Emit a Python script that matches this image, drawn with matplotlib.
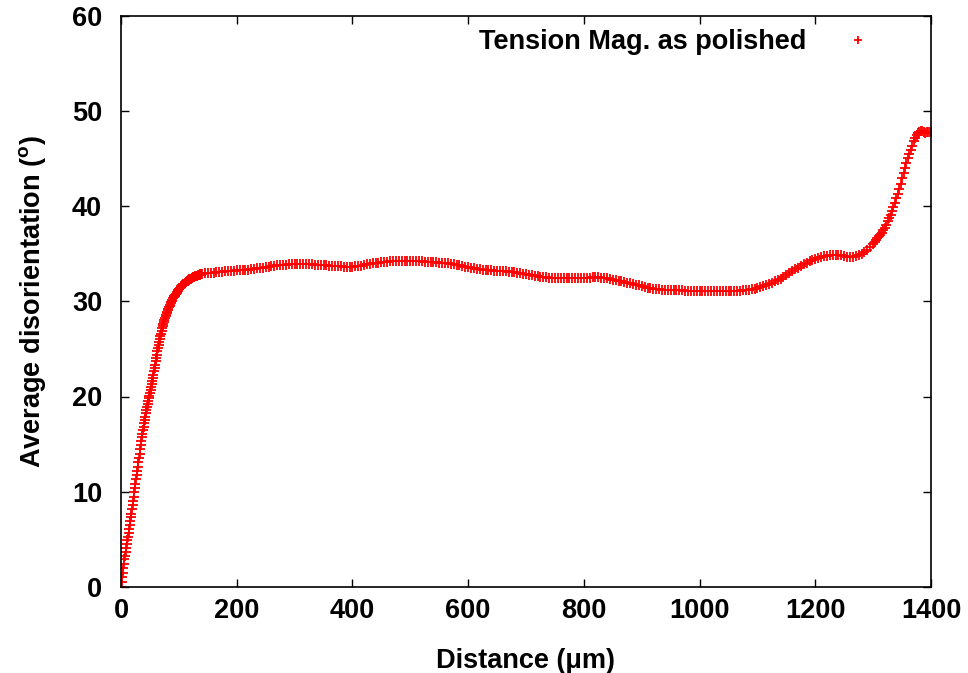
import numpy as np
import matplotlib
matplotlib.use("Agg")
import matplotlib.pyplot as plt

# ---- data ----
dist_rise = [0, 1, 2, 3, 4, 5, 6, 7, 8, 9,
             10, 11, 12, 13, 14, 15, 16, 17, 18, 19,
             20, 21, 22, 23, 24, 25, 26, 27, 28, 29,
             30, 31, 32, 33, 34, 35, 36, 37, 38, 39,
             40, 41, 42, 43, 44, 45, 46, 47, 48, 49,
             50, 51, 52, 53, 54, 55, 56, 57, 58, 59,
             60, 61, 62, 63, 64, 65, 66, 67, 68, 69,
             70, 71, 72, 73, 74, 75, 76, 77, 78, 79,
             80, 81, 82, 83, 84, 85, 86, 87, 88, 89,
             90, 91, 92, 93, 94, 95, 96, 97, 98, 99,
             100, 101, 102, 103, 104, 105, 106, 107, 108, 109,
             110, 111, 112, 113, 114, 115, 116, 117, 118, 119,
             120, 121, 122, 123, 124, 125, 126, 127, 128, 129,
             130, 131, 132, 133, 134, 135, 136, 137, 138, 139]
angle_rise = [0.0, 0.5, 1.0, 1.5, 2.0, 2.45, 2.9, 3.3, 3.7, 4.1,
              4.5, 4.9, 5.3, 5.7, 6.1, 6.5, 6.9, 7.3, 7.7, 8.15,
              8.6, 9.05, 9.5, 9.95, 10.4, 10.85, 11.3, 11.75, 12.2, 12.65,
              13.1, 13.55, 14.0, 14.45, 14.9, 15.3, 15.7, 16.1, 16.5, 16.85,
              17.2, 17.55, 17.9, 18.25, 18.6, 18.9, 19.2, 19.5, 19.8, 20.1,
              20.4, 20.7, 21.0, 21.3, 21.6, 21.95, 22.3, 22.65, 23.0, 23.35,
              23.7, 24.05, 24.4, 24.75, 25.1, 25.4, 25.7, 26.0, 26.3, 26.6,
              26.9, 27.15, 27.4, 27.6, 27.8, 28.0, 28.2, 28.4, 28.6, 28.75,
              28.9, 29.05, 29.2, 29.35, 29.5, 29.65, 29.8, 29.93, 30.05, 30.18,
              30.3, 30.4, 30.5, 30.6, 30.7, 30.8, 30.9, 31.0, 31.1, 31.18,
              31.25, 31.33, 31.4, 31.48, 31.55, 31.63, 31.7, 31.75, 31.8, 31.85,
              31.9, 31.95, 32.0, 32.05, 32.1, 32.15, 32.2, 32.25, 32.3, 32.33,
              32.35, 32.38, 32.4, 32.45, 32.5, 32.53, 32.55, 32.58, 32.6, 32.63,
              32.65, 32.68, 32.7, 32.73, 32.75, 32.78, 32.8, 32.83, 32.85, 32.88]

dist_plateau = [140, 145, 150, 155, 160, 165, 170, 175, 180, 185,
                190, 195, 200, 205, 210, 215, 220, 225, 230, 235,
                240, 245, 250, 255, 260, 265, 270, 275, 280, 285,
                290, 295, 300, 305, 310, 315, 320, 325, 330, 335,
                340, 345, 350, 355, 360, 365, 370, 375, 380, 385,
                390, 395, 400, 405, 410, 415, 420, 425, 430, 435,
                440, 445, 450, 455, 460, 465, 470, 475, 480, 485,
                490, 495, 500, 505, 510, 515, 520, 525, 530, 535,
                540, 545, 550, 555, 560, 565, 570, 575, 580, 585,
                590, 595, 600, 605, 610, 615, 620, 625, 630, 635,
                640, 645, 650, 655, 660, 665, 670, 675, 680, 685,
                690, 695, 700, 705, 710, 715, 720, 725, 730, 735,
                740, 745, 750, 755, 760, 765, 770, 775, 780, 785,
                790, 795, 800, 805, 810, 815, 820, 825, 830, 835,
                840, 845, 850, 855, 860, 865, 870, 875, 880, 885,
                890, 895, 900, 905, 910, 915, 920, 925, 930, 935,
                940, 945, 950, 955, 960, 965, 970, 975, 980, 985,
                990, 995, 1000, 1005, 1010, 1015, 1020, 1025, 1030, 1035,
                1040, 1045, 1050, 1055, 1060, 1065, 1070, 1075, 1080, 1085,
                1090, 1095, 1100, 1105, 1110, 1115, 1120, 1125, 1130, 1135,
                1140, 1145, 1150, 1155, 1160, 1165, 1170, 1175, 1180, 1185,
                1190, 1195, 1200, 1205, 1210, 1215, 1220, 1225, 1230, 1235,
                1240, 1245, 1250, 1255, 1260, 1265, 1270, 1275, 1280, 1285,
                1290, 1295]
angle_plateau = [32.90, 32.93, 32.95, 32.97, 33.00, 33.03, 33.07, 33.10, 33.13, 33.17,
                 33.20, 33.22, 33.24, 33.26, 33.28, 33.30, 33.32, 33.36, 33.40, 33.44,
                 33.48, 33.53, 33.58, 33.63, 33.68, 33.72, 33.76, 33.80, 33.83, 33.85,
                 33.87, 33.89, 33.90, 33.90, 33.90, 33.89, 33.88, 33.87, 33.86, 33.85,
                 33.83, 33.81, 33.79, 33.76, 33.73, 33.71, 33.69, 33.67, 33.65, 33.63,
                 33.62, 33.61, 33.62, 33.65, 33.70, 33.75, 33.80, 33.86, 33.92, 33.97,
                 34.02, 34.06, 34.10, 34.13, 34.16, 34.18, 34.19, 34.20, 34.21, 34.22,
                 34.22, 34.22, 34.21, 34.20, 34.20, 34.19, 34.18, 34.17, 34.15, 34.12,
                 34.10, 34.08, 34.06, 34.03, 34.00, 33.97, 33.93, 33.88, 33.82, 33.76,
                 33.70, 33.64, 33.58, 33.52, 33.46, 33.41, 33.36, 33.32, 33.28, 33.26,
                 33.24, 33.22, 33.21, 33.20, 33.17, 33.14, 33.10, 33.06, 33.02, 32.98,
                 32.93, 32.88, 32.83, 32.78, 32.73, 32.68, 32.63, 32.58, 32.54, 32.50,
                 32.47, 32.44, 32.42, 32.41, 32.40, 32.40, 32.40, 32.40, 32.41, 32.42,
                 32.43, 32.44, 32.45, 32.46, 32.48, 32.50, 32.51, 32.50, 32.48, 32.44,
                 32.40, 32.34, 32.28, 32.22, 32.16, 32.10, 32.03, 31.96, 31.89, 31.82,
                 31.74, 31.66, 31.58, 31.51, 31.44, 31.38, 31.33, 31.29, 31.25, 31.22,
                 31.20, 31.18, 31.17, 31.16, 31.15, 31.14, 31.13, 31.12, 31.10, 31.08,
                 31.06, 31.05, 31.04, 31.04, 31.05, 31.07, 31.08, 31.10, 31.10, 31.09,
                 31.08, 31.06, 31.05, 31.05, 31.06, 31.08, 31.10, 31.13, 31.16, 31.20,
                 31.25, 31.31, 31.38, 31.46, 31.56, 31.67, 31.80, 31.94, 32.08, 32.22,
                 32.37, 32.55, 32.74, 32.94, 33.14, 33.34, 33.54, 33.72, 33.90, 34.06,
                 34.20, 34.33, 34.44, 34.54, 34.63, 34.71, 34.78, 34.84, 34.88, 34.90,
                 34.89, 34.84, 34.76, 34.68, 34.64, 34.66, 34.74, 34.86, 35.00, 35.17,
                 35.38, 35.65]

dist_tail = [1300, 1302.5, 1305, 1307.5, 1310, 1312.5, 1315, 1317.5, 1320, 1322.5,
             1325, 1327.5, 1330, 1332.5, 1335, 1337.5, 1340, 1342.5, 1345, 1347.5,
             1350, 1352.5, 1355, 1357.5, 1360, 1362.5, 1365, 1367.5, 1370, 1372.5,
             1375, 1377.5, 1380, 1382.5, 1385, 1387.5, 1390, 1392.5, 1395, 1397.5,
             1400]
angle_tail = [36.0, 36.2, 36.4, 36.6, 36.8, 37.0, 37.2, 37.45, 37.7, 38.05,
              38.4, 38.75, 39.1, 39.5, 39.9, 40.35, 40.8, 41.3, 41.8, 42.35,
              42.9, 43.45, 44.0, 44.5, 45.0, 45.45, 45.9, 46.35, 46.8, 47.15,
              47.5, 47.7, 47.8, 47.9, 47.9, 47.8, 47.7, 47.75, 47.8, 47.8,
              47.8]

x_ticks = [0, 200, 400, 600, 800, 1000, 1200, 1400]
y_ticks = [0, 10, 20, 30, 40, 50, 60]
series_label = "Tension Mag. as polished"
x_label = "Distance (\u03bcm)"
y_label = r"Average disorientation ($^{\mathregular{o}}$)"

distance = np.array(dist_rise + dist_plateau + dist_tail, dtype=float)
angle = np.array(angle_rise + angle_plateau + angle_tail, dtype=float)

# ---- style ----
plt.rcParams['font.family'] = ['Liberation Sans', 'DejaVu Sans']
plt.rcParams['font.weight'] = 'bold'
plt.rcParams['mathtext.fontset'] = 'custom'
plt.rcParams['mathtext.rm'] = 'Liberation Sans:bold'
plt.rcParams['mathtext.bf'] = 'Liberation Sans:bold'
FS = 19.5

W, H = 968, 673
fig = plt.figure(figsize=(W / 100, H / 100), dpi=100)
left, right, top, bottom = 121, 931, 15.5, 587
ax = fig.add_axes([left / W, 1 - bottom / H, (right - left) / W, (bottom - top) / H])

ax.plot(distance, angle, linestyle='none', marker='+', color='#ff0000',
        markersize=7.3, markeredgewidth=1.3, label=series_label)

ax.set_xlim(0, 1400)
ax.set_ylim(0, 60)
ax.set_xticks(x_ticks)
ax.set_yticks(y_ticks)
ax.set_xticklabels([str(t) for t in x_ticks], fontsize=FS, fontweight='bold')
ax.set_yticklabels([str(t) for t in y_ticks], fontsize=FS, fontweight='bold')
ax.tick_params(axis='both', direction='in', length=6, width=1.0,
               top=True, right=True, colors='black')
ax.tick_params(axis='x', pad=8)
ax.tick_params(axis='y', pad=13.5)
for sp in ax.spines.values():
    sp.set_linewidth(1.2)
    sp.set_color('black')

ax.set_xlabel(x_label, fontsize=FS, fontweight='bold', labelpad=17)
ax.set_ylabel(y_label, fontsize=FS, fontweight='bold', labelpad=17)

leg = ax.legend(loc='upper right', bbox_to_anchor=(0.953, 0.976), frameon=False,
                markerfirst=False, handlelength=2.6, handletextpad=0.6,
                borderaxespad=0.0, borderpad=0.0, markerscale=0.7,
                prop={'weight': 'bold', 'size': FS})

fig.savefig("out.png", dpi=100)
